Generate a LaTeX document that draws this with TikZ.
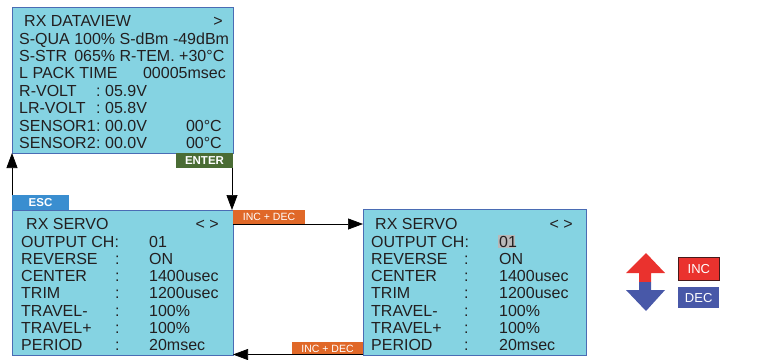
\documentclass[tikz,border=0pt]{standalone}
\usepackage{fontspec}
\setmainfont{Liberation Sans}
\usetikzlibrary{arrows.meta}
\definecolor{scr}{RGB}{133,211,226}
\definecolor{scrborder}{RGB}{74,108,180}
\definecolor{entergreen}{RGB}{74,108,52}
\definecolor{escblue}{RGB}{58,142,208}
\definecolor{incorange}{RGB}{224,104,40}
\definecolor{legred}{RGB}{234,50,46}
\definecolor{legblue}{RGB}{72,88,168}
\definecolor{legedge}{RGB}{70,25,25}
\definecolor{txt}{RGB}{35,31,32}
\definecolor{hl}{RGB}{185,185,185}
\begin{document}
\begin{tikzpicture}[x=1pt,y=-1pt,
  screen/.style={draw=scrborder, line width=0.8pt, fill=scr, inner sep=0pt, outer sep=0pt, anchor=north west},
  tabbox/.style={inner sep=0pt, outer sep=0pt, text=white, minimum height=15pt},
  tabfont/.style={font=\fontsize{11.5}{11.5}\selectfont\bfseries},
  incfont/.style={font=\fontsize{10.5}{10.5}\selectfont},
  t/.style={anchor=base west, inner sep=0pt, text=txt, font=\fontsize{16}{16}\selectfont},
  te/.style={t, anchor=base east},
  conn/.style={draw=black, line width=0.7pt, -{Triangle[length=15pt,width=11pt]}}]
\useasboundingbox (0,0) rectangle (765,359);

% screens
\node[screen, minimum width=221pt, minimum height=146pt] (dv) at (12,7) {};
\node[screen, minimum width=221pt, minimum height=145pt] (s1) at (12,210) {};
\node[screen, minimum width=223pt, minimum height=146pt] (s2) at (363,209) {};

% tabs
\node[tabbox, tabfont, fill=entergreen, minimum width=57pt, anchor=north east] (enter) at (233,153) {ENTER};
\node[tabbox, tabfont, fill=escblue, minimum width=57pt, anchor=south west] (esc) at (12,210) {ESC};
\node[tabbox, incfont, fill=incorange, minimum width=72pt, minimum height=14pt, anchor=north west] (inc1) at (233,210) {INC + DEC};
\node[tabbox, incfont, fill=incorange, minimum width=71pt, minimum height=13pt, anchor=south east] (inc2) at (363,355) {INC + DEC};

% RX DATAVIEW text
\node[t] (d0) at (24,26.5) {RX DATAVIEW};
\node[te] (d0r) at (223,26.5) {>};
\node[t] (d1) at (19,44) {S-QUA 100\% S-dBm -49dBm};
\node[t] (d2) at (19,61.5) {S-STR\, 065\% R-TEM. +30°C};
\node[t] (d3) at (19,78.5) {L PACK TIME};
\node[te] (d3r) at (226,78.5) {00005msec};
\node[t] (d4) at (19,96) {R-VOLT};
\node[t] (d4c) at (96,96) {:};
\node[t] (d4v) at (105,96) {05.9V};
\node[t] (d5) at (19,113.5) {LR-VOLT};
\node[t] (d5c) at (96,113.5) {:};
\node[t] (d5v) at (105,113.5) {05.8V};
\node[t] (d6) at (19,131) {SENSOR1};
\node[t] (d6c) at (96,131) {:};
\node[t] (d6v) at (105,131) {00.0V};
\node[te] (d6r) at (222,131) {00°C};
\node[t] (d7) at (19,148.5) {SENSOR2};
\node[t] (d7c) at (96,148.5) {:};
\node[t] (d7v) at (105,148.5) {00.0V};
\node[te] (d7r) at (222,148.5) {00°C};

% RX SERVO (left)
\node[t] (a0) at (26,229.5) {RX SERVO};
\node[te] (a0r) at (219,229.5) {< >};
\node[t] (a1) at (21,247) {OUTPUT CH:};
\node[t] (a1v) at (149,247) {01};
\node[t] (a2) at (21,264.5) {REVERSE};
\node[t] (a2c) at (115,264.5) {:};
\node[t] (a2v) at (149,264.5) {ON};
\node[t] (a3) at (21,281.5) {CENTER};
\node[t] (a3c) at (115,281.5) {:};
\node[t] (a3v) at (149,281.5) {1400usec};
\node[t] (a4) at (21,298.5) {TRIM};
\node[t] (a4c) at (115,298.5) {:};
\node[t] (a4v) at (149,298.5) {1200usec};
\node[t] (a5) at (21,316) {TRAVEL-};
\node[t] (a5c) at (115,316) {:};
\node[t] (a5v) at (149,316) {100\%};
\node[t] (a6) at (21,333.5) {TRAVEL+};
\node[t] (a6c) at (115,333.5) {:};
\node[t] (a6v) at (149,333.5) {100\%};
\node[t] (a7) at (21,350.5) {PERIOD};
\node[t] (a7c) at (115,350.5) {:};
\node[t] (a7v) at (149,350.5) {20msec};

% RX SERVO (right)
\node[fill=hl, inner sep=0pt, minimum width=17pt, minimum height=13pt, anchor=north west] (hlbox) at (498,235) {};
\node[t] (b0) at (375,229.5) {RX SERVO};
\node[te] (b0r) at (573,229.5) {< >};
\node[t] (b1) at (371,247) {OUTPUT CH:};
\node[t] (b1v) at (499,247) {01};
\node[t] (b2) at (371,264.5) {REVERSE};
\node[t] (b2c) at (464,264.5) {:};
\node[t] (b2v) at (499,264.5) {ON};
\node[t] (b3) at (371,281.5) {CENTER};
\node[t] (b3c) at (464,281.5) {:};
\node[t] (b3v) at (499,281.5) {1400usec};
\node[t] (b4) at (371,298.5) {TRIM};
\node[t] (b4c) at (464,298.5) {:};
\node[t] (b4v) at (499,298.5) {1200usec};
\node[t] (b5) at (371,316) {TRAVEL-};
\node[t] (b5c) at (464,316) {:};
\node[t] (b5v) at (499,316) {100\%};
\node[t] (b6) at (371,333.5) {TRAVEL+};
\node[t] (b6c) at (464,333.5) {:};
\node[t] (b6v) at (499,333.5) {100\%};
\node[t] (b7) at (371,350.5) {PERIOD};
\node[t] (b7c) at (464,350.5) {:};
\node[t] (b7v) at (499,350.5) {20msec};

% connectors
\draw[conn] ([xshift=-1pt]enter.south east) -- ([xshift=-1pt]s1.north east);
\draw[conn] (esc.north west) -- (dv.south west);
\draw[conn] (inc1.south west) -- (inc1.south west -| s2.west);
\draw[conn] ([yshift=0.5pt]s2.south west) -- ([yshift=0.5pt]s1.south east);

% legend
\fill[legred] (646,253) -- (665,273) -- (651,273) -- (651,282) -- (639,282) -- (639,273) -- (626,273) -- cycle;
\fill[legblue] (639,282) -- (651,282) -- (651,290) -- (665,290) -- (646,311) -- (626,290) -- (639,290) -- cycle;
\node[fill=legred, draw=legedge, line width=0.8pt, text=white, inner sep=0pt, minimum width=41pt, minimum height=23pt, anchor=north west, font=\fontsize{13}{13}\selectfont] (inc) at (678,257) {INC};
\node[fill=legblue, text=white, inner sep=0pt, minimum width=41pt, minimum height=21pt, anchor=north west, font=\fontsize{13}{13}\selectfont] (dec) at (678,287) {DEC};
\end{tikzpicture}
\end{document}
